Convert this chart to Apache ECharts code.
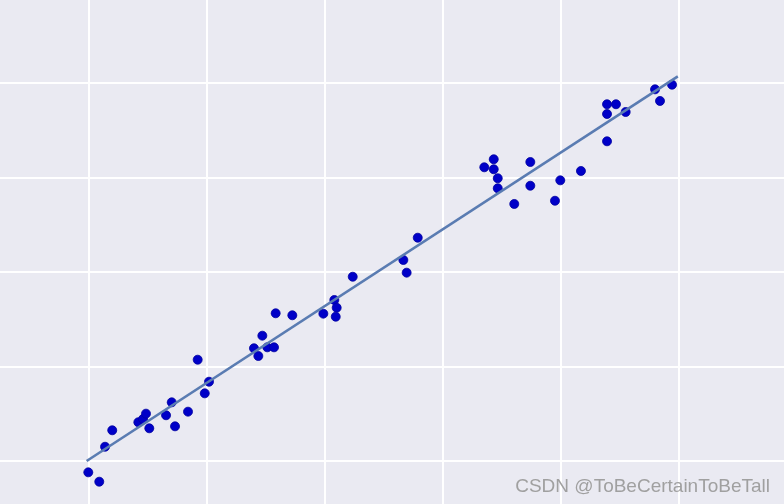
<!DOCTYPE html>
<html>
<head>
<meta charset="utf-8">
<script src="https://cdn.jsdelivr.net/npm/echarts@6/dist/echarts.min.js"></script>
<style>html,body{margin:0;padding:0;background:#EAEAF2;}#c{width:784px;height:504px;}</style>
</head>
<body>
<div id="c"></div>
<script>
const xValues = [-0.006,0.087,0.136,0.197,0.418,0.458,0.483,0.511,0.653,0.701,0.729,0.839,0.981,0.921,1.017,1.398,1.435,1.469,1.511,1.568,1.582,1.723,1.986,2.079,2.099,2.091,2.235,2.664,2.692,2.786,3.350,3.430,3.430,3.464,3.464,3.604,3.740,3.740,3.949,3.994,4.169,4.390,4.466,4.390,4.548,4.390,4.797,4.839,4.941];
const yValues = [-0.120,-0.219,0.151,0.325,0.410,0.444,0.501,0.346,0.484,0.621,0.367,0.522,0.716,1.072,0.839,1.193,1.111,1.326,1.203,1.203,1.563,1.542,1.559,1.704,1.622,1.527,1.950,2.127,1.993,2.363,3.108,3.193,3.087,2.992,2.886,2.720,3.164,2.913,2.754,2.970,3.069,3.775,3.775,3.672,3.693,3.383,3.933,3.810,3.982];
const fitX = [-0.02, 4.99];
const fitY = [0.0, 4.07];
const xTicks = [-1,0,1,2,3,4,5,6];
const yTicks = [-1,0,1,2,3,4,5];

const chart = echarts.init(document.getElementById('c'), null, {renderer:'canvas'});
const pts = xValues.map((x,i)=>[x,yValues[i]]);
const fit = fitX.map((x,i)=>[x,fitY[i]]);
chart.setOption({
  animation:false,
  backgroundColor:'#EAEAF2',
  grid:{left:-29, right:-13, top:-11.5, bottom:-51.5, containLabel:false, outerBoundsMode:'none'},
  xAxis:{type:'value', min:xTicks[0], max:xTicks[xTicks.length-1], interval:1,
    axisLine:{show:false}, axisTick:{show:false}, axisLabel:{show:false},
    splitLine:{show:true, lineStyle:{color:'#FFFFFF', width:2}}},
  yAxis:{type:'value', min:yTicks[0], max:yTicks[yTicks.length-1], interval:1,
    axisLine:{show:false}, axisTick:{show:false}, axisLabel:{show:false},
    splitLine:{show:true, lineStyle:{color:'#FFFFFF', width:2}}},
  series:[
    {type:'scatter', data:pts, symbolSize:9, z:2,
     itemStyle:{color:'#0000C8', borderColor:'#0000A0', borderWidth:0.8, opacity:1}},
    {type:'line', data:fit, symbol:'none', z:3,
     lineStyle:{color:'#5A7CB2', width:2.6}}
  ],
  graphic:[{type:'text', right:14, top:477, z:10,
    style:{text:'CSDN @ToBeCertainToBeTall', fill:'#A0A0A0', font:'19px "Liberation Sans", Arial, sans-serif'}}]
});
</script>
</body>
</html>
